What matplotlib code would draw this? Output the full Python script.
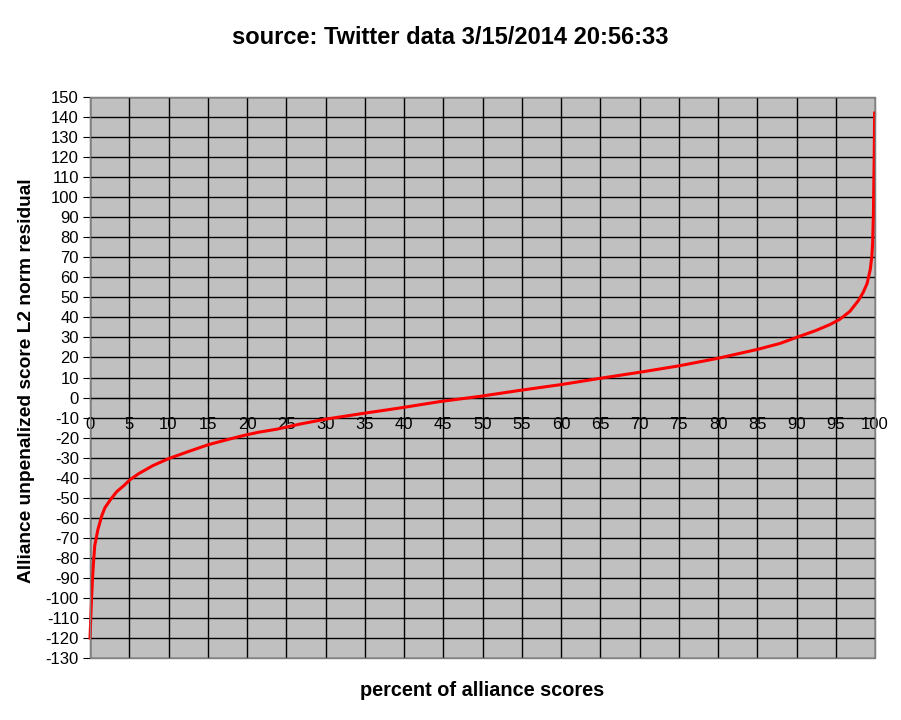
import numpy as np
import matplotlib
matplotlib.use("Agg")
import matplotlib.pyplot as plt
from matplotlib.patches import Rectangle

# percent of alliance scores vs residual
pct = [0.0, 0.1, 0.2, 0.3, 0.4, 0.6, 1.0, 1.5, 1.9, 2.6, 3.4, 4.3, 5.1, 6.2,
       8.0, 10.0, 12.5, 15.1, 17.5, 19.5, 21.5, 23.8, 26.8, 30.0, 35.0, 39.5,
       44.6, 49.7, 54.8, 59.9, 65.0, 70.0, 75.0, 80.0, 85.0, 87.9, 90.0,
       92.5, 94.3, 95.5, 96.8, 97.9, 98.5, 99.0, 99.4, 99.6, 99.7, 99.8,
       99.9, 99.95]
resid = [-120, -110, -100, -92, -85, -74, -66, -59, -55, -51, -47, -44, -41,
         -38, -34, -30.5, -27, -23.5, -21, -19, -17.3, -15.8, -13.2, -10.8,
         -7.8, -5.2, -2.0, 0.6, 3.6, 6.4, 9.6, 12.6, 15.8, 19.6, 24.0, 27.0,
         30.0, 33.5, 36.5, 39.0, 43.0, 48.5, 52.5, 57.0, 64.0, 70.5, 77.0,
         92.0, 120.0, 142.0]

yticks = np.arange(-130, 151, 10)
xticks = np.arange(0, 101, 5)

plt.rcParams['font.family'] = ['Liberation Sans', 'DejaVu Sans']
plt.rcParams['axes.unicode_minus'] = False

fig = plt.figure(figsize=(9.01, 7.2), dpi=100)
ax = fig.add_axes([90/901, 1-658/720, 785/901, 561/720])
ax.set_facecolor('#C0C0C0')

ax.plot(pct, resid, color='#FF0000', lw=2.2, zorder=5, clip_on=False)

ax.set_xlim(0, 100)
ax.set_ylim(-130, 150)
ax.set_yticks(yticks)
ax.set_xticks(xticks)
ax.grid(True, color='black', lw=1.0)
ax.set_axisbelow(True)

for s in ['top', 'right']:
    ax.spines[s].set_color('#808080')
ax.spines['left'].set_color('black')
ax.spines['bottom'].set_position(('data', 0))
ax.spines['bottom'].set_color('black')
ax.add_patch(Rectangle((0, 0), 1, 1, transform=ax.transAxes, fill=False,
                       edgecolor='#808080', lw=1, zorder=6, clip_on=False))

ax.tick_params(axis='y', direction='out', length=5, labelsize=12, pad=3)
ax.tick_params(axis='x', direction='inout', length=6, labelsize=12, pad=11)

fig.text(0.5, 1-38/720, 'source: Twitter data 3/15/2014 20:56:33',
         ha='center', va='center', fontsize=17, fontweight='bold')
fig.text(482/901, 1-690/720, 'percent of alliance scores',
         ha='center', va='center', fontsize=14.3, fontweight='bold')
fig.text(27/901, 1-381/720, 'Alliance unpenalized score L2 norm residual',
         ha='center', va='center', rotation=90, fontsize=13.8,
         fontweight='bold')

fig.savefig('out.png', dpi=100, facecolor='white')
